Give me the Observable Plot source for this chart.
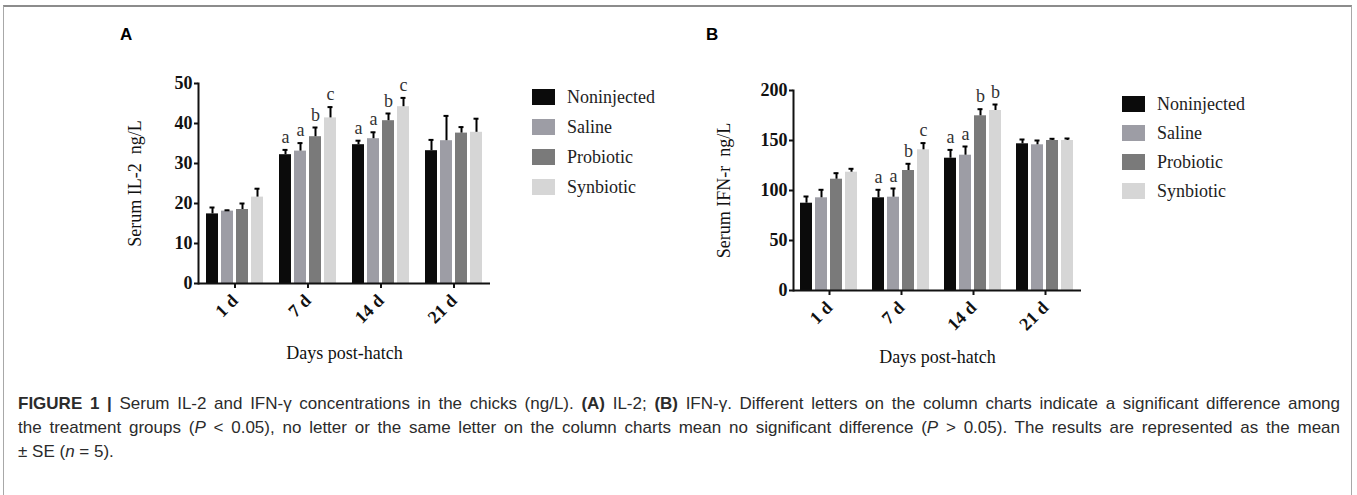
<!DOCTYPE html>
<html><head><meta charset="utf-8">
<script src="https://cdn.jsdelivr.net/npm/d3@7"></script>
<script src="https://cdn.jsdelivr.net/npm/@observablehq/plot@0.6"></script>
<style>
html,body{margin:0;padding:0;background:#fff;}
body{width:1357px;height:495px;position:relative;overflow:hidden;}
#box{position:absolute;left:3px;top:5px;width:1349px;height:540px;border:1px solid #a8a8a8;border-top:2px solid #8c8c8c;box-sizing:border-box;}
.panel-letter{position:absolute;font:bold 17px "Liberation Sans",Arial,sans-serif;color:#000;line-height:20px;}
.chart{position:absolute;}
.chart svg{overflow:visible;}
.chart g[aria-label="y-axis tick label"], .chart g[aria-label="fx-axis tick label"]{font-weight:bold;}
.legend{position:absolute;font:18px "Liberation Serif","Times New Roman",serif;color:#222;}
.legend .sw{position:absolute;width:23px;height:16px;}
.legend .lab{position:absolute;line-height:20px;white-space:nowrap;}
#caption{position:absolute;left:18px;top:392px;width:1322px;font:17px "Liberation Sans",Arial,sans-serif;color:#2b2b2b;line-height:24px;}
#caption .ln{white-space:nowrap;text-align:justify;text-align-last:justify;}
#caption .ln.last{text-align:left;text-align-last:left;}
</style></head><body>
<div id="box"></div>
<div class="panel-letter" style="left:120px;top:25px;">A</div>
<div class="panel-letter" style="left:706px;top:25px;">B</div>
<div id="panelA" class="chart" style="left:95px;top:60px;"></div>
<div id="panelB" class="chart" style="left:690px;top:60px;"></div>
<div id="legendA" class="legend" style="left:532px;top:89px;"></div>
<div id="legendB" class="legend" style="left:1122px;top:96px;"></div>
<div id="caption">
<div class="ln"><b>FIGURE 1 |</b> Serum IL-2 and IFN-γ concentrations in the chicks (ng/L). <b>(A)</b> IL-2; <b>(B)</b> IFN-γ. Different letters on the column charts indicate a significant difference among</div>
<div class="ln">the treatment groups (<i>P</i> &lt; 0.05), no letter or the same letter on the column charts mean no significant difference (<i>P</i> &gt; 0.05). The results are represented as the mean</div>
<div class="ln last">± SE (<i>n</i> = 5).</div>
</div>
<script>
// ---- data ----
const days = ["1 d", "7 d", "14 d", "21 d"];
const groups = ["Noninjected", "Saline", "Probiotic", "Synbiotic"];
const groupColors = ["#0b0b0b", "#9d9da5", "#7a7a7a", "#d6d6d6"];

// Serum IL-2 (ng/L): rows = days, columns = groups
const il2Means = [
  [17.4, 18.1, 18.5, 21.6],
  [32.2, 33.1, 36.7, 41.4],
  [34.7, 36.2, 40.7, 44.2],
  [33.2, 35.7, 37.6, 37.8]
];
const il2SE = [
  [1.6, 0.2, 1.5, 2.1],
  [1.2, 2.0, 2.3, 2.7],
  [1.0, 1.6, 1.8, 2.2],
  [2.7, 6.2, 1.5, 3.4]
];
const il2Letters = [
  ["", "", "", ""],
  ["a", "a", "b", "c"],
  ["a", "a", "b", "c"],
  ["", "", "", ""]
];
const il2Ticks = [0, 10, 20, 30, 40, 50];

// Serum IFN-γ (ng/L)
const ifnMeans = [
  [87.3, 92.7, 111.3, 118.3],
  [92.7, 93.3, 120.0, 140.7],
  [132.3, 135.3, 174.7, 180.0],
  [146.7, 145.7, 150.0, 150.0]
];
const ifnSE = [
  [6.7, 8.0, 6.0, 3.4],
  [8.0, 8.7, 6.7, 6.7],
  [8.3, 8.7, 6.6, 6.0],
  [4.3, 4.3, 1.7, 2.0]
];
const ifnLetters = [
  ["", "", "", ""],
  ["a", "a", "b", "c"],
  ["a", "a", "b", "b"],
  ["", "", "", ""]
];
const ifnTicks = [0, 50, 100, 150, 200];

function buildRows(means, ses, letters) {
  const rows = [];
  days.forEach((day, i) => groups.forEach((g, j) => rows.push({day, group: g, mean: means[i][j], se: ses[i][j], letter: letters[i][j]})));
  return rows;
}

function panel(opts) {
  const rows = buildRows(opts.means, opts.ses, opts.letters);
  const top = d => d.mean + d.se;
  return Plot.plot({
    width: opts.width, height: opts.height,
    marginLeft: opts.mL, marginRight: opts.mR, marginTop: opts.mT, marginBottom: opts.mB,
    style: {fontFamily: '"Liberation Serif", "Times New Roman", serif', fontSize: "18px", color: "#111", background: "transparent"},
    fx: {domain: days, padding: 0},
    x: {domain: groups, axis: null, paddingInner: 0.17, paddingOuter: 0.4},
    y: {domain: [0, opts.yMax]},
    color: {domain: groups, range: groupColors},
    marks: [
      Plot.barY(rows, {fx: "day", x: "group", y: "mean", fill: "group"}),
      Plot.ruleX(rows, {fx: "day", x: "group", y1: "mean", y2: top, stroke: "#000", strokeWidth: 2}),
      Plot.tickY(rows, {fx: "day", x: "group", y: top, stroke: "#000", strokeWidth: 2, insetLeft: 3.5, insetRight: 3.5}),
      Plot.text(rows.filter(d => d.letter), {fx: "day", x: "group", y: top, text: "letter", lineAnchor: "bottom", dy: -7, fontSize: 18, fill: "#333"}),
      Plot.ruleY([0], {stroke: "#111", strokeWidth: 2}),
      Plot.frame({anchor: "left", facetAnchor: "left", stroke: "#111", strokeWidth: 2}),
      Plot.axisY({ticks: opts.yTicks, tickSize: 4, tickPadding: 2, strokeWidth: 2, fontSize: 18,
        label: opts.yLabel, labelAnchor: "center", labelArrow: "none", labelOffset: opts.yLabelOffset}),
      Plot.axisFx({anchor: "bottom", tickSize: 5, tickPadding: 9, strokeWidth: 2, tickRotate: -45, fontSize: 18,
        label: "Days post-hatch", labelAnchor: "center", labelArrow: "none", labelOffset: opts.xLabelOffset})
    ]
  });
}

document.getElementById("panelA").append(panel({
  means: il2Means, ses: il2SE, letters: il2Letters, yMax: 50, yTicks: il2Ticks,
  yLabel: "Serum IL-2\u00a0 ng/L",
  width: 400, height: 320, mL: 102, mR: 5, mT: 23, mB: 97, yLabelOffset: 70, xLabelOffset: 75
}));
document.getElementById("panelB").append(panel({
  means: ifnMeans, ses: ifnSE, letters: ifnLetters, yMax: 200, yTicks: ifnTicks,
  yLabel: "Serum IFN-r\u00a0 ng/L",
  width: 400, height: 320, mL: 102, mR: 8, mT: 30, mB: 90, yLabelOffset: 76, xLabelOffset: 72
}));

function legend(id, step) {
  const el = document.getElementById(id);
  groups.forEach((g, i) => {
    const sw = document.createElement("div");
    sw.className = "sw";
    sw.style.left = "0px";
    sw.style.top = (i * step) + "px";
    sw.style.background = groupColors[i];
    el.append(sw);
    const lab = document.createElement("div");
    lab.className = "lab";
    lab.style.left = "35px";
    lab.style.top = (i * step - 2) + "px";
    lab.textContent = g;
    el.append(lab);
  });
}
legend("legendA", 30);
legend("legendB", 29);
</script>
</body></html>
